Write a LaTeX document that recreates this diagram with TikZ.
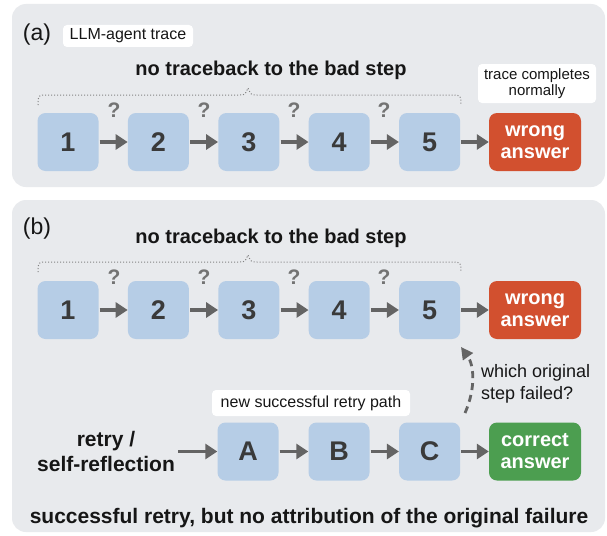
\documentclass[tikz,border=0pt]{standalone}
\usepackage{fontspec}
\setmainfont{Liberation Sans}
\usetikzlibrary{arrows.meta}
\definecolor{panelgray}{RGB}{232,234,237}
\definecolor{stepblue}{RGB}{182,205,230}
\definecolor{wrongred}{RGB}{210,80,47}
\definecolor{rightgreen}{RGB}{76,158,80}
\definecolor{arrowgray}{RGB}{100,100,100}
\definecolor{numgray}{RGB}{58,58,58}
\definecolor{qgray}{RGB}{115,115,115}
\definecolor{titleblack}{RGB}{22,22,22}
\definecolor{bracegray}{RGB}{130,130,130}
\tikzset{
  panelbox/.style={fill=panelgray, rounded corners=14pt},
  stepbox/.style={fill=stepblue, rounded corners=8pt, minimum width=61pt, minimum height=58pt,
    inner sep=0pt, font=\fontsize{27}{30}\selectfont\bfseries, text=numgray},
  ansbox/.style={rounded corners=8pt, minimum width=92pt, minimum height=58pt, inner sep=0pt,
    text=white, align=center, font=\fontsize{20}{22}\selectfont\bfseries},
  flow/.style={draw=arrowgray, line width=3.6pt, shorten <=1pt, -{Triangle[length=12pt,width=15pt]}},
  qmark/.style={font=\fontsize{21}{24}\selectfont\bfseries, text=qgray},
  tagbox/.style={fill=white, rounded corners=4pt, inner sep=0pt, text=titleblack},
  bracepath/.style={draw=bracegray, dotted, line width=1pt},
  titletext/.style={font=\fontsize{20}{24}\selectfont\bfseries, text=titleblack},
  paneltag/.style={font=\fontsize{23}{26}\selectfont, text=titleblack}
}
\begin{document}
\begin{tikzpicture}[x=1pt,y=-1pt]
\useasboundingbox (0,0) rectangle (607,535);
\fill[white] (0,0) rectangle (607,535);

% ---------- panel (a) ----------
\fill[panelbox] (12,4) rectangle (605,187);
\node[paneltag] (tagA) at (37,35) {(a)};
\node[tagbox, minimum width=130pt, minimum height=22pt, font=\fontsize{16}{18}\selectfont] (lbltrace) at (128,36) {LLM-agent trace};
\node[titletext] (titleA) at (271,70) {no traceback to the bad step};
\node[tagbox, minimum width=118pt, minimum height=39pt, align=center, font=\fontsize{15}{16}\selectfont] (lblnormal) at (537,83.5) {trace completes\\normally};

\draw[bracepath] (38,105) .. controls (38,95) .. (48,95) -- (239,95) .. controls (245,95) .. (248,88)
  .. controls (251,95) .. (257,95) -- (451,95) .. controls (461,95) .. (461,105);

\foreach \i/\x in {1/68,2/158.4,3/248.8,4/339.2,5/429.6}{
  \node[stepbox] (a\i) at (\x,142) {\i};
}
\node[ansbox, fill=wrongred] (awrong) at (535,142) {wrong\\answer};
\foreach \i/\j in {1/2,2/3,3/4,4/5}{
  \draw[flow] (a\i) -- (a\j);
}
\draw[flow] (a5) -- (awrong);
\foreach \x [count=\k] in {114,204,294,384}{
  \node[qmark] (qa\k) at (\x,110) {?};
}

% ---------- panel (b) ----------
\fill[panelbox] (12,200) rectangle (605,532);
\node[paneltag] (tagB) at (37,229) {(b)};
\node[titletext] (titleB) at (271,238) {no traceback to the bad step};

\draw[bracepath] (38,272) .. controls (38,262) .. (48,262) -- (239,262) .. controls (245,262) .. (248,255)
  .. controls (251,262) .. (257,262) -- (451,262) .. controls (461,262) .. (461,272);

\foreach \i/\x in {1/68,2/158.4,3/248.8,4/339.2,5/429.6}{
  \node[stepbox] (b\i) at (\x,310) {\i};
}
\node[ansbox, fill=wrongred] (bwrong) at (535,310) {wrong\\answer};
\foreach \i/\j in {1/2,2/3,3/4,4/5}{
  \draw[flow] (b\i) -- (b\j);
}
\draw[flow] (b5) -- (bwrong);
\foreach \x [count=\k] in {114,204,294,384}{
  \node[qmark] (qb\k) at (\x,277) {?};
}

% retry row
\node[titletext, align=center, font=\fontsize{21}{25}\selectfont\bfseries, inner sep=2pt] (retry) at (106,451.5) {retry /\\self-reflection};
\node[stepbox] (rA) at (248,451.5) {A};
\node[stepbox] (rB) at (339,451.5) {B};
\node[stepbox] (rC) at (429.6,451.5) {C};
\node[ansbox, fill=rightgreen] (rcorrect) at (535,451.5) {correct\\answer};
\draw[flow] (retry) -- (rA);
\draw[flow] (rA) -- (rB);
\draw[flow] (rB) -- (rC);
\draw[flow] (rC) -- (rcorrect);

\node[tagbox, minimum width=198pt, minimum height=26pt, font=\fontsize{16}{18}\selectfont] (lblretry) at (311,403) {new successful retry path};

\coordinate (qstart) at (465,413);
\coordinate (qend) at (461,347);
\draw[draw=arrowgray, line width=2.8pt, dash pattern=on 7pt off 5pt, -{Triangle[length=12pt,width=12pt]}]
  (qstart) .. controls (476,388) and (474,365) .. (qend);
\node[anchor=west, align=left, font=\fontsize{18}{22}\selectfont, text=titleblack, inner sep=0pt] (which) at (481,384) {which original\\step failed?};

\node[titletext, font=\fontsize{21}{24}\selectfont\bfseries] (bottom) at (309,518) {successful retry, but no attribution of the original failure};
\end{tikzpicture}
\end{document}
